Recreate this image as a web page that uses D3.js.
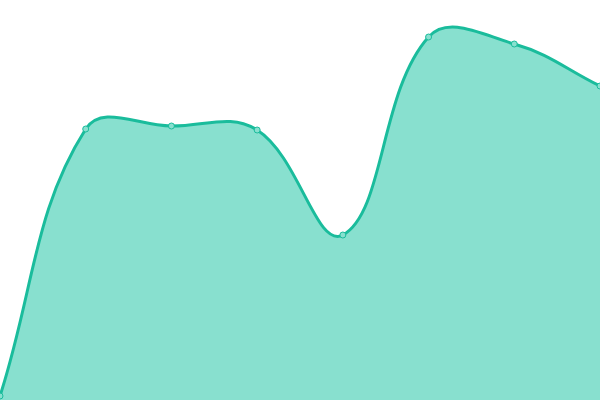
<!DOCTYPE html>
<html><head><meta charset="utf-8">
<script src="https://cdn.jsdelivr.net/npm/d3@7"></script>
<style>html,body{margin:0;padding:0;background:#fff;}svg{display:block;}</style>
</head><body>
<svg id="c" width="600" height="400"></svg>
<script>
const categories = [0, 1, 2, 3, 4, 5, 6, 7];
const values = [4, 271, 274, 270, 165, 363, 356, 314];

const W = 600, H = 400;
const TENSION = 0.4;

// Spline curve (tension-based, distance weighted) as a d3 curve factory
function SplineCurve(context) { this._context = context; }
SplineCurve.prototype = {
  areaStart() { this._line = 0; },
  areaEnd() { this._line = NaN; },
  lineStart() { this._pts = []; },
  point(x, y) { this._pts.push([+x, +y]); },
  lineEnd() {
    const p = this._pts, n = p.length, c = this._context;
    if (n) {
      if (this._line) c.lineTo(p[0][0], p[0][1]); else c.moveTo(p[0][0], p[0][1]);
      const cps = p.map((cur, i) => {
        const prev = p[Math.max(0, i - 1)], next = p[Math.min(n - 1, i + 1)];
        const d01 = Math.hypot(cur[0] - prev[0], cur[1] - prev[1]);
        const d12 = Math.hypot(next[0] - cur[0], next[1] - cur[1]);
        let s01 = d01 / (d01 + d12), s12 = d12 / (d01 + d12);
        if (isNaN(s01)) s01 = 0; if (isNaN(s12)) s12 = 0;
        const fa = TENSION * s01, fb = TENSION * s12;
        const clampX = v => Math.max(0, Math.min(W, v));
        const clampY = v => Math.max(0, Math.min(H, v));
        return {
          px: clampX(cur[0] - fa * (next[0] - prev[0])), py: clampY(cur[1] - fa * (next[1] - prev[1])),
          nx: clampX(cur[0] + fb * (next[0] - prev[0])), ny: clampY(cur[1] + fb * (next[1] - prev[1]))
        };
      });
      for (let i = 1; i < n; i++) {
        c.bezierCurveTo(cps[i - 1].nx, cps[i - 1].ny, cps[i].px, cps[i].py, p[i][0], p[i][1]);
      }
    }
    if (this._line || (this._line !== 0 && n === 1)) c.closePath();
    this._line = 1 - this._line;
  }
};
const curveSpline = context => new SplineCurve(context);

const svg = d3.select("#c");
const x = d3.scaleLinear().domain([0, categories.length - 1]).range([0, W]);
const y = d3.scaleLinear().domain([0, 400]).range([H, 0]);
const data = categories.map((c, i) => ({c, v: values[i]}));

svg.append("path").datum(data)
  .attr("d", d3.area().x(d => x(d.c)).y0(H).y1(d => y(d.v)).curve(curveSpline))
  .attr("fill", "#88e0cf");
svg.append("path").datum(data)
  .attr("d", d3.line().x(d => x(d.c)).y(d => y(d.v)).curve(curveSpline))
  .attr("fill", "none").attr("stroke", "#1abc9c").attr("stroke-width", 3)
  .attr("stroke-linejoin", "round");
svg.selectAll("circle").data(data).enter().append("circle")
  .attr("cx", d => x(d.c)).attr("cy", d => y(d.v)).attr("r", 3)
  .attr("fill", "#88e0cf").attr("stroke", "#1abc9c").attr("stroke-width", 1);
</script>
</body></html>
